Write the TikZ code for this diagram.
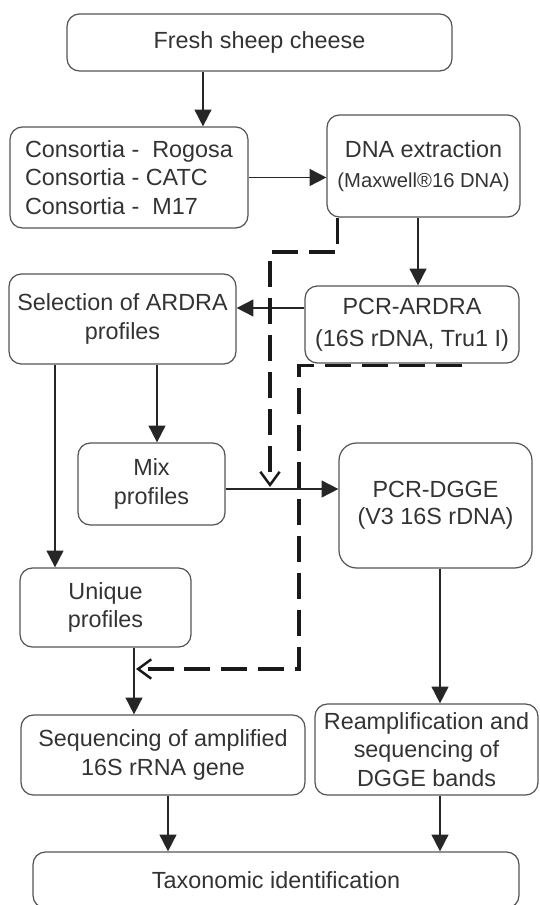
\documentclass[tikz,border=0pt]{standalone}
\usepackage{fontspec}
\setmainfont{Liberation Sans}
\usetikzlibrary{arrows.meta}
\definecolor{txtgray}{HTML}{333333}
\definecolor{boxgray}{HTML}{555555}
\begin{document}
\begin{tikzpicture}[x=0.02cm,y=-0.02cm,
    box/.style={draw=boxgray,line width=0.7pt,rounded corners=7pt,inner sep=0pt,align=center,text=txtgray,font=\fontsize{13.3}{16.3}\selectfont},
    arr/.style={draw=black!85,line width=1pt,-{Triangle[length=9.5pt,width=9.5pt]}},
    dasharr/.style={draw=black!90,line width=2pt,dash pattern=on 0.52cm off 0.22cm,-{Straight Barb[length=7.5pt,width=11pt,line width=1.4pt]}}]
        \clip (0,0) rectangle (540,905);
        \node[box,minimum width=7.7cm,minimum height=1.14cm] (cheese) at (259.5,42.5) {Fresh sheep cheese};
        \node[box,align=left,minimum width=4.76cm,minimum height=2.02cm] (consortia) at (129,177.5) {Consortia -\ \ Rogosa\\Consortia - CATC\\Consortia -\ \ M17};
        \node[box,minimum width=3.86cm,minimum height=2.04cm] (dna) at (423.5,166) {DNA extraction\\[1pt]{\fontsize{11.5}{14}\selectfont (Maxwell®16 DNA)}};
        \node[box,minimum width=4.28cm,minimum height=1.54cm] (ardra) at (412,324.5) {PCR-ARDRA\\[2pt](16S rDNA, Tru1 I)};
        \node[box,minimum width=4.54cm,minimum height=1.8cm] (select) at (122.5,319) {Selection of ARDRA\\profiles};
        \node[box,minimum width=2.94cm,minimum height=1.64cm] (mix) at (151.5,484) {Mix\\profiles};
        \node[box,minimum width=3.86cm,minimum height=2.5cm,rounded corners=10pt] (dgge) at (435.5,505.5) {PCR-DGGE\\[-1pt](V3 16S rDNA)};
        \node[box,minimum width=3.42cm,minimum height=1.58cm] (unique) at (105.5,607.5) {Unique\\profiles};
        \node[box,minimum width=5.68cm,minimum height=1.6cm] (seq) at (163,755) {Sequencing of amplified\\16S rRNA gene};
        \node[box,minimum width=4.46cm,minimum height=1.82cm] (reamp) at (426.5,749.5) {Reamplification and\\sequencing of\\DGGE bands};
        \node[box,minimum width=9.72cm,minimum height=1.12cm] (taxo) at (276,880) {Taxonomic identification};
        \coordinate (bendA) at (270,252);
        \coordinate (tipA) at (270,487);
        \coordinate (bendB) at (299,669);
        \coordinate (tipB) at (136,669);
        \draw[arr] ([xshift=1.48cm]consortia.north |- cheese.south) -- ([xshift=1.48cm]consortia.north);
        \draw[arr] (consortia.east) -- (consortia.east -| dna.west);
        \draw[arr] ([xshift=-0.11cm]dna.south) -- ([xshift=-0.11cm]dna.south |- ardra.north);
        \draw[arr] ([yshift=0.33cm]ardra.west) -- ([yshift=0.33cm]ardra.west -| select.east);
        \draw[arr] ([xshift=0.11cm]mix.north |- select.south) -- ([xshift=0.11cm]mix.north);
        \draw[arr] ([yshift=-0.1cm]mix.east) -- ([yshift=-0.1cm]mix.east -| dgge.west);
        \draw[arr] ([xshift=-1.01cm]unique.north |- select.south) -- ([xshift=-1.01cm]unique.north);
        \draw[arr] ([xshift=0.57cm]unique.south) -- ([xshift=0.57cm]unique.south |- seq.north);
        \draw[arr] ([xshift=0.09cm]dgge.south) -- ([xshift=0.09cm]dgge.south |- reamp.north);
        \draw[arr] ([xshift=0.1cm]seq.south) -- ([xshift=0.1cm]seq.south |- taxo.north);
        \draw[arr] ([xshift=0.27cm]reamp.south) -- ([xshift=0.27cm]reamp.south |- taxo.north);
        \draw[dasharr] ([xshift=0.22cm]dna.south west) |- (bendA) -- (tipA);
        \draw[dasharr] ([xshift=1cm,yshift=-0.04cm]ardra.south) -| (bendB) -- (tipB);
    \end{tikzpicture}
\end{document}
